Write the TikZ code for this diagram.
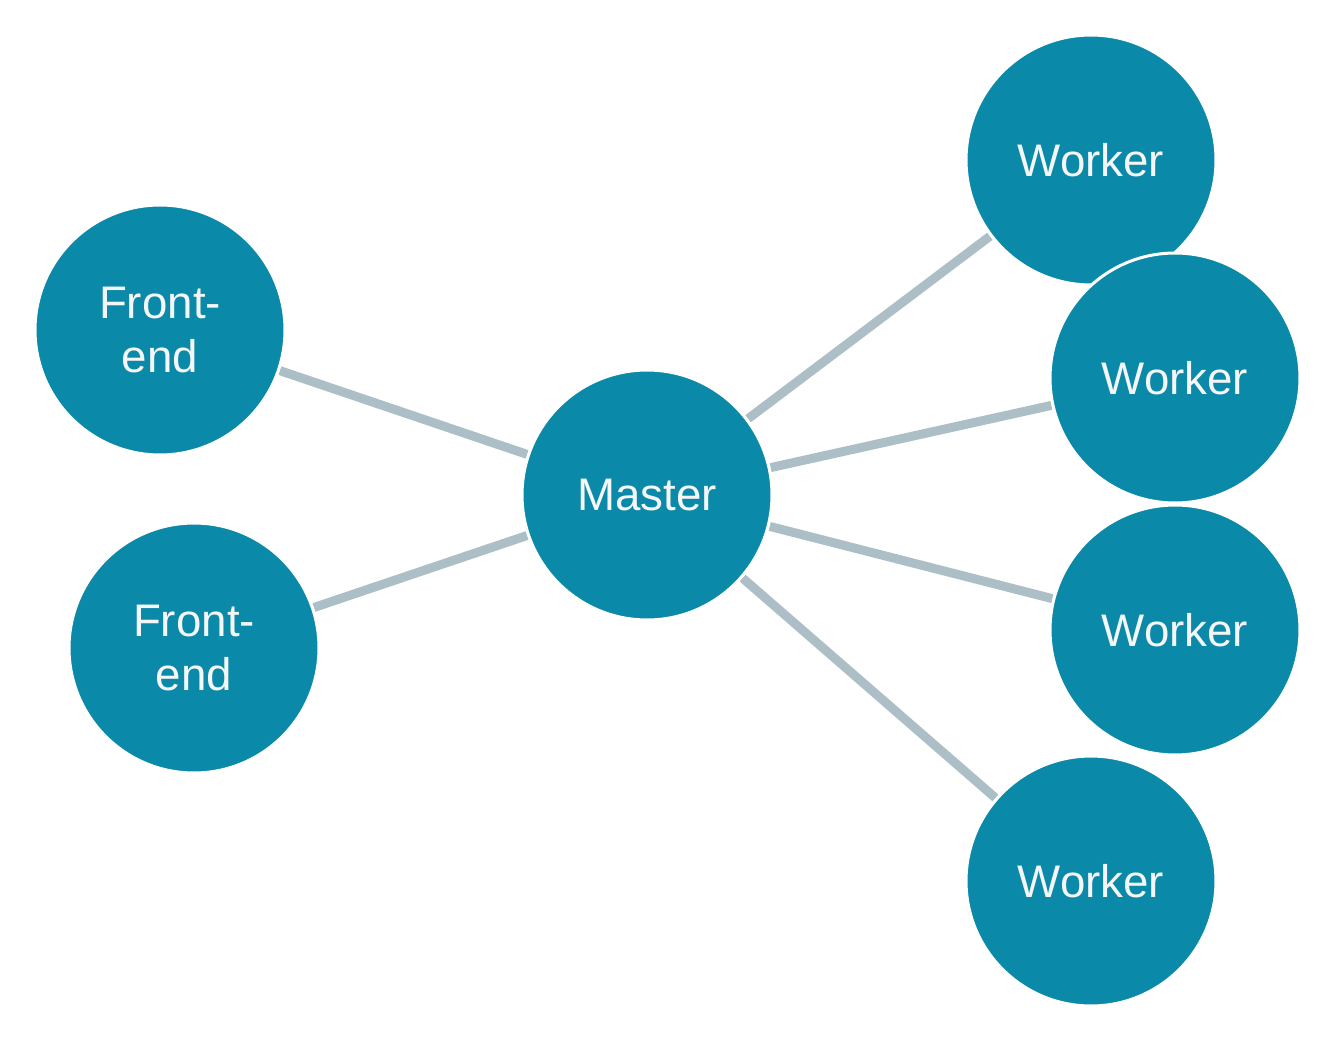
\documentclass[tikz,border=0pt]{standalone}
\usepackage{fontspec}
\setmainfont{Liberation Sans}
\usetikzlibrary{backgrounds}
\definecolor{nodefill}{HTML}{0A89A8}
\definecolor{edgecol}{HTML}{ADBFC6}
\definecolor{txtcol}{HTML}{F4F6F7}
\begin{document}
\begin{tikzpicture}[x=0.02cm,y=-0.02cm,
  bubble/.style={circle,fill=nodefill,draw=white,line width=0.06cm,minimum size=5.0cm,inner sep=0pt,
    text=txtcol,align=center,font=\fontsize{26}{31}\selectfont},
  link/.style={draw=edgecol,line width=0.18cm}]
\useasboundingbox (0,0) rectangle (1334,1041);
\node[bubble] (w1) at (1091,160) {Worker};
\node[bubble] (w2) at (1175,378) {Worker};
\node[bubble] (w3) at (1175,630) {Worker};
\node[bubble] (w4) at (1091,881) {Worker};
\node[bubble] (m) at (647,495) {Master};
\node[bubble] (f1) at (160,330) {Front-\\end};
\node[bubble] (f2) at (194,648) {Front-\\end};
\begin{scope}[on background layer]
\draw[link] (m) -- (f1);
\draw[link] (m) -- (f2);
\draw[link] (m) -- (w1);
\draw[link] (m) -- (w2);
\draw[link] (m) -- (w3);
\draw[link] (m) -- (w4);
\end{scope}
\end{tikzpicture}
\end{document}
